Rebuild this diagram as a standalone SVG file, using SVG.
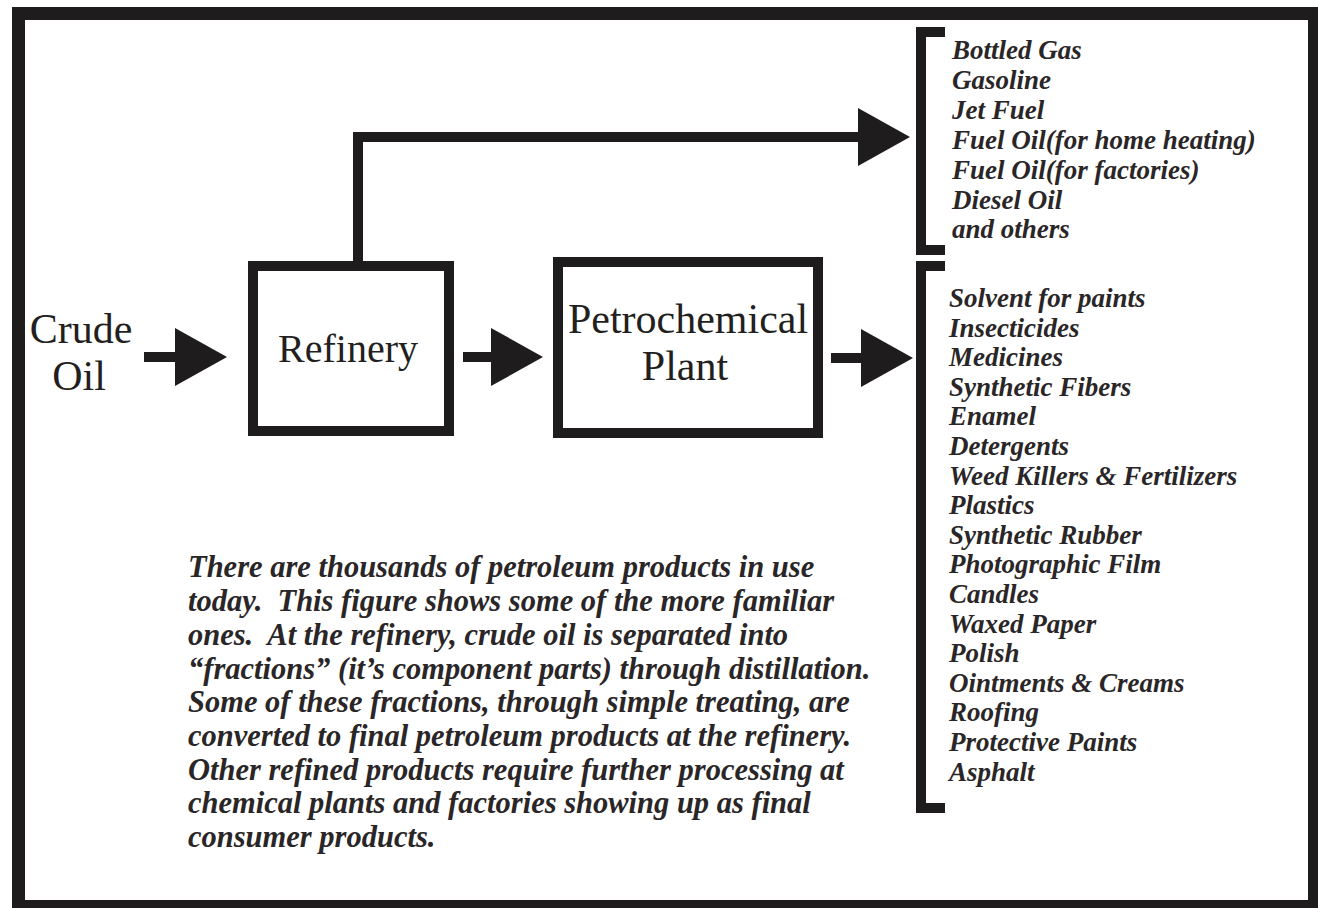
<svg xmlns="http://www.w3.org/2000/svg" width="1318" height="908" viewBox="0 0 1318 908">
<style>
.ln{fill:none;stroke:#1e1c1d;stroke-width:10;stroke-linejoin:miter;stroke-linecap:butt}
.box{fill:#fff;stroke:#1e1c1d;stroke-width:10}
.big{font-family:"Liberation Serif","Times New Roman",serif;font-size:42px;fill:#231f20;text-anchor:middle}
.it{font-family:"Liberation Serif","Times New Roman",serif;font-weight:bold;font-style:italic;fill:#2a2627}
.lst{font-size:27px}
.par{font-size:30.5px}
</style>
<defs>
<marker id="ah" markerUnits="userSpaceOnUse" markerWidth="52" markerHeight="58" viewBox="0 0 52 58" refX="20" refY="29" orient="auto">
<path d="M0,0 L52,29 L0,58 Z" fill="#1e1c1d"/>
</marker>
</defs>
<rect x="0" y="0" width="1318" height="908" fill="#fff"/>
<rect id="frame" x="18.5" y="13.5" width="1296" height="893" fill="none" stroke="#1e1c1d" stroke-width="13"/>
<g id="connectors">
<line class="ln" x1="144" y1="357" x2="195" y2="357" marker-end="url(#ah)"/>
<line class="ln" x1="463" y1="357" x2="511" y2="357" marker-end="url(#ah)"/>
<line class="ln" x1="831" y1="358" x2="881" y2="358" marker-end="url(#ah)"/>
<path class="ln" d="M358,263 V137 H878" marker-end="url(#ah)"/>
</g>
<g id="crude-oil">
<text class="big" x="81" y="343">Crude</text>
<text class="big" x="79" y="390">Oil</text>
</g>
<g id="refinery">
<rect class="box" x="253" y="266" width="196" height="165"/>
<text class="big" x="348" y="362" style="font-size:40px">Refinery</text>
</g>
<g id="petrochemical-plant">
<rect class="box" x="558" y="262" width="260" height="171"/>
<text class="big" x="688" y="333">Petrochemical</text>
<text class="big" x="685" y="380">Plant</text>
</g>
<g id="refinery-products">
<path class="ln" d="M945,32 H921 V250 H945"/>
<text class="it lst" x="952" y="59">Bottled Gas</text>
<text class="it lst" x="952" y="89">Gasoline</text>
<text class="it lst" x="952" y="119">Jet Fuel</text>
<text class="it lst" x="952" y="149">Fuel Oil(for home heating)</text>
<text class="it lst" x="952" y="179">Fuel Oil(for factories)</text>
<text class="it lst" x="952" y="209">Diesel Oil</text>
<text class="it lst" x="952" y="238">and others</text>
</g>
<g id="petrochemical-products">
<path class="ln" d="M945,266 H921 V808 H945"/>
<text class="it lst" x="949" y="307">Solvent for paints</text>
<text class="it lst" x="949" y="336.6">Insecticides</text>
<text class="it lst" x="949" y="366.2">Medicines</text>
<text class="it lst" x="949" y="395.8">Synthetic Fibers</text>
<text class="it lst" x="949" y="425.4">Enamel</text>
<text class="it lst" x="949" y="455">Detergents</text>
<text class="it lst" x="949" y="484.6">Weed Killers &amp; Fertilizers</text>
<text class="it lst" x="949" y="514.2">Plastics</text>
<text class="it lst" x="949" y="543.8">Synthetic Rubber</text>
<text class="it lst" x="949" y="573.4">Photographic Film</text>
<text class="it lst" x="949" y="603">Candles</text>
<text class="it lst" x="949" y="632.6">Waxed Paper</text>
<text class="it lst" x="949" y="662.2">Polish</text>
<text class="it lst" x="949" y="691.8">Ointments &amp; Creams</text>
<text class="it lst" x="949" y="721.4">Roofing</text>
<text class="it lst" x="949" y="751">Protective Paints</text>
<text class="it lst" x="949" y="780.6">Asphalt</text>
</g>
<g id="description">
<text class="it par" x="188" y="577">There are thousands of petroleum products in use</text>
<text class="it par" x="188" y="611">today.&#160; This figure shows some of the more familiar</text>
<text class="it par" x="188" y="645">ones.&#160; At the refinery, crude oil is separated into</text>
<text class="it par" x="188" y="679">“fractions” (it’s component parts) through distillation.</text>
<text class="it par" x="188" y="712">Some of these fractions, through simple treating, are</text>
<text class="it par" x="188" y="746">converted to final petroleum products at the refinery.</text>
<text class="it par" x="188" y="780">Other refined products require further processing at</text>
<text class="it par" x="188" y="813">chemical plants and factories showing up as final</text>
<text class="it par" x="188" y="847">consumer products.</text>
</g>
</svg>
